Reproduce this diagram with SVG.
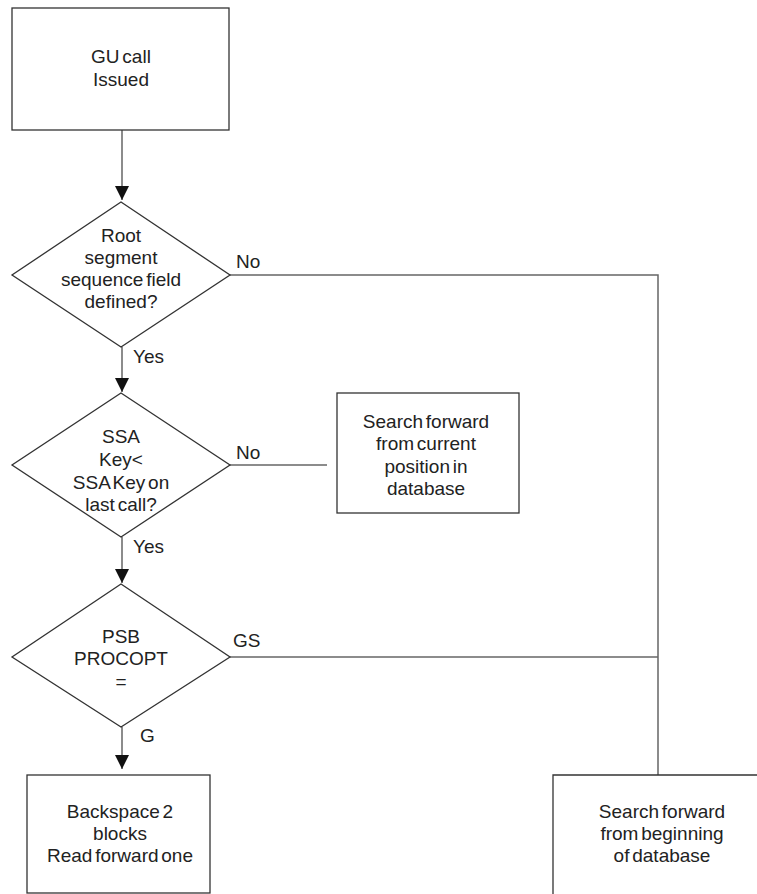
<svg xmlns="http://www.w3.org/2000/svg" width="757" height="894" viewBox="0 0 757 894">
<style>
text{font-family:"Liberation Sans",Arial,sans-serif;font-size:19px;fill:#222;word-spacing:-2.5px}
.c{text-anchor:middle}
.n{fill:#fff;stroke:#333;stroke-width:1.3}
.e{fill:none;stroke:#666;stroke-width:1.5}
</style>
<defs>
<marker id="ah" viewBox="0 0 10 10" refX="10" refY="5" markerWidth="14" markerHeight="14" markerUnits="userSpaceOnUse" orient="auto"><path d="M0,0L10,5L0,10z" fill="#111"/></marker>
</defs>
<rect width="757" height="894" fill="#fff"/>
<g id="connectors">
<line class="e" x1="122" y1="130" x2="122" y2="200" marker-end="url(#ah)"/>
<line class="e" x1="122" y1="347" x2="122" y2="392" marker-end="url(#ah)"/>
<line class="e" x1="122" y1="537" x2="122" y2="583" marker-end="url(#ah)"/>
<line class="e" x1="122" y1="727" x2="122" y2="769" marker-end="url(#ah)"/>
<polyline class="e" points="230,275 658,275 658,775"/>
<line class="e" x1="230" y1="465" x2="327" y2="465"/>
<line class="e" x1="230" y1="657" x2="658" y2="657"/>
<text x="236" y="268">No</text>
<text x="133" y="363">Yes</text>
<text x="236" y="459">No</text>
<text x="133" y="553">Yes</text>
<text x="233" y="647">GS</text>
<text x="140" y="742">G</text>
</g>
<g id="start">
<rect class="n" x="12" y="8" width="217" height="122"/>
<text class="c" x="121" y="63">GU call</text>
<text class="c" x="121" y="86">Issued</text>
</g>
<g id="d1">
<polygon class="n" points="121,202 230,275 121,347 12,275"/>
<text class="c" x="121" y="242">Root</text>
<text class="c" x="121" y="264">segment</text>
<text class="c" x="121" y="286">sequence field</text>
<text class="c" x="121" y="308">defined?</text>
</g>
<g id="d2">
<polygon class="n" points="121,393 230,465 121,537 12,465"/>
<text class="c" x="121" y="443">SSA</text>
<text class="c" x="121" y="466">Key&lt;</text>
<text class="c" x="121" y="489">SSA Key on</text>
<text class="c" x="121" y="511">last call?</text>
</g>
<g id="current">
<rect class="n" x="337" y="393" width="182" height="120"/>
<text class="c" x="426" y="428">Search forward</text>
<text class="c" x="426" y="450">from current</text>
<text class="c" x="426" y="473">position in</text>
<text class="c" x="426" y="495">database</text>
</g>
<g id="d3">
<polygon class="n" points="121,584 230,657 121,727 12,657"/>
<text class="c" x="121" y="643">PSB</text>
<text class="c" x="121" y="665">PROCOPT</text>
<text class="c" x="121" y="688">=</text>
</g>
<g id="backspace">
<rect class="n" x="27" y="775" width="183" height="118"/>
<text class="c" x="120" y="818">Backspace 2</text>
<text class="c" x="120" y="840">blocks</text>
<text class="c" x="120" y="862">Read forward one</text>
</g>
<g id="beginning">
<path class="n" d="M553,894V775H757"/>
<text class="c" x="662" y="818">Search forward</text>
<text class="c" x="662" y="840">from beginning</text>
<text class="c" x="662" y="862">of database</text>
</g>
</svg>
